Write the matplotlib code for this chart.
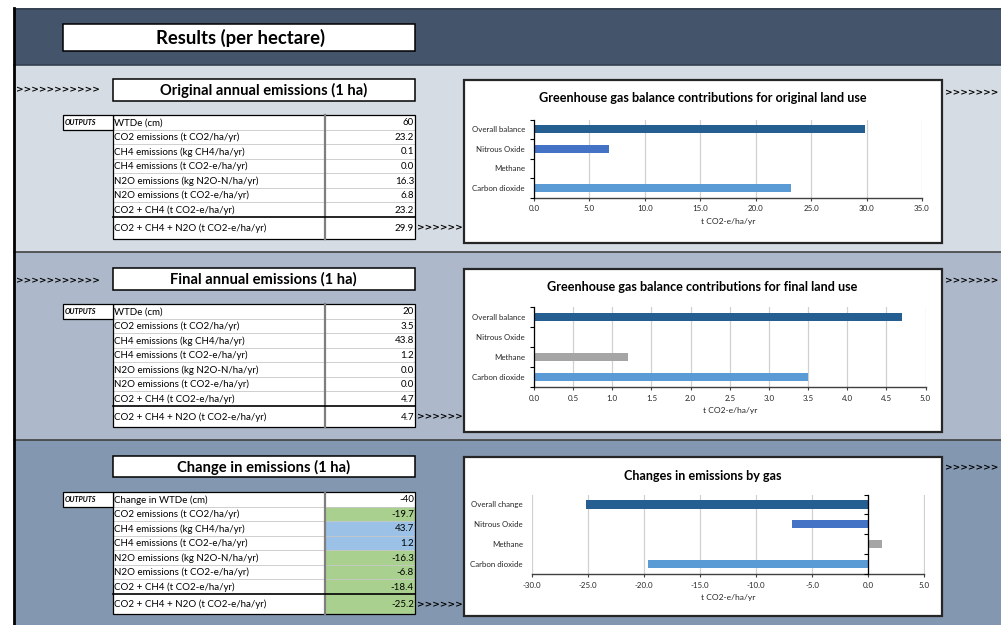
import numpy as np
import matplotlib.pyplot as plt
from matplotlib.patches import Rectangle

plt.rcParams['font.family'] = ['Lato', 'DejaVu Sans']

W, H = 1001, 625

# table rows
row_labels = ['WTDe (cm)', 'CO2 emissions (t CO2/ha/yr)', 'CH4 emissions (kg CH4/ha/yr)',
              'CH4 emissions (t CO2-e/ha/yr)', 'N2O emissions (kg N2O-N/ha/yr)',
              'N2O emissions (t CO2-e/ha/yr)', 'CO2 + CH4 (t CO2-e/ha/yr)',
              'CO2 + CH4 + N2O (t CO2-e/ha/yr)']
change_labels = ['Change in WTDe (cm)'] + row_labels[1:]
original_vals = [60, 23.2, 0.1, 0.0, 16.3, 6.8, 23.2, 29.9]
final_vals = [20, 3.5, 43.8, 1.2, 0.0, 0.0, 4.7, 4.7]
change_vals = [-40, -19.7, 43.7, 1.2, -16.3, -6.8, -18.4, -25.2]

# chart series (bottom to top)
gases = ['Carbon dioxide', 'Methane', 'Nitrous Oxide', 'Overall balance']
change_gases = ['Carbon dioxide', 'Methane', 'Nitrous Oxide', 'Overall change']
original_gas = [23.2, 0.0, 6.8, 29.9]
final_gas = [3.5, 1.2, 0.0, 4.7]
change_gas = [-19.7, 1.2, -6.8, -25.2]
gas_colors = ['#5B9BD5', '#A5A5A5', '#4472C4', '#255E91']

fig = plt.figure(figsize=(W / 100, H / 100), dpi=100)
bg = fig.add_axes([0, 0, 1, 1])
bg.set_xlim(0, W)
bg.set_ylim(H, 0)
bg.axis('off')


def box(x0, y0, x1, y1, fc='white', ec='black', lw=1.0, z=1):
    bg.add_patch(Rectangle((x0, y0), x1 - x0, y1 - y0, facecolor=fc,
                           edgecolor=ec, linewidth=lw, zorder=z))


def arrows(x, y, n):
    bg.text(x, y, '>' * n, ha='left', va='center', fontsize=6.5,
            fontweight='bold', family='DejaVu Sans', zorder=3)


# background bands
box(14, 8, W, 65, fc='#44546A', ec='none')
bg.plot([14, W], [8.5, 8.5], color='#333F50', lw=1.2, zorder=2)
bg.plot([14, W], [64.5, 64.5], color='#333F50', lw=1.2, zorder=2)
box(14, 65, W, 252, fc='#D6DCE4', ec='none')
box(14, 252, W, 440, fc='#ADB9CA', ec='none')
box(14, 440, W, H, fc='#8497B0', ec='none')
bg.plot([14, W], [252, 252], color='#404040', lw=1.2, zorder=2)
bg.plot([14, W], [440, 440], color='#404040', lw=1.2, zorder=2)
bg.plot([13.5, 13.5], [8, H], color='black', lw=2, zorder=5)

# heading boxes
box(63, 24, 415, 50.5, lw=1.1, z=2)
bg.text(241, 38, 'Results (per hectare)', ha='center', va='center',
        fontsize=13.3, fontweight='bold', zorder=3)

headers = ['Original annual emissions (1 ha)', 'Final annual emissions (1 ha)',
           'Change in emissions (1 ha)']
header_y = [(79, 100.5), (268, 290), (456, 477)]
for text, (y0, y1) in zip(headers, header_y):
    box(112.5, y0, 415, y1, lw=1.1, z=2)
    bg.text(263.5, (y0 + y1) / 2 + 0.5, text, ha='center', va='center',
            fontsize=10.6, fontweight='bold', zorder=3)

for y in [90, 280.5]:
    arrows(16, y, 11)
for y in [93, 281, 468]:
    arrows(945, y, 7)


def fmt(i, v):
    return f'{v:.0f}' if i == 0 else f'{v:.1f}'


def table(top, mid, bottom, labels, vals, shade=False):
    n = len(labels) - 1
    h = (mid - top) / n
    tops = [top + i * h for i in range(n)] + [mid]
    bots = tops[1:] + [bottom]
    for i, (y0, y1) in enumerate(zip(tops, bots)):
        fc = 'white'
        if shade and i > 0:
            fc = '#A9D08E' if vals[i] < 0 else '#9BC2E6'
        box(112.5, y0, 325, y1, ec='none', z=2)
        box(325, y0, 415, y1, fc=fc, ec='none', z=2)
        if 0 < i < n:
            bg.plot([112.5, 415], [y0, y0], color='#C8C8C8', lw=0.6, zorder=3)
        bg.text(114.5, (y0 + y1) / 2 + 0.5, labels[i], ha='left', va='center',
                fontsize=7, zorder=4)
        bg.text(414, (y0 + y1) / 2 + 0.5, fmt(i, vals[i]), ha='right',
                va='center', fontsize=7, zorder=4)
    box(112.5, top, 415, bottom, fc='none', ec='black', lw=0.9, z=4)
    bg.plot([325, 325], [top, bottom], color='#7F7F7F', lw=1.6, zorder=4)
    bg.plot([112.5, 415], [mid, mid], color='black', lw=1.2, zorder=4)
    box(63, top, 112.5, top + h, ec='black', lw=0.9, z=4)
    bg.text(65, top + h / 2 + 0.5, 'OUTPUTS', ha='left', va='center',
            fontsize=5.2, fontweight='bold', style='italic', zorder=5)
    arrows(416.5, (mid + bottom) / 2 + 0.5, 7)


table(115, 217, 238.5, row_labels, original_vals)
table(304, 406, 427, row_labels, final_vals)
table(492, 594, 614, change_labels, change_vals, shade=True)


def chart(box_y, title, title_y, plot_px, cats, vals, xlim, step):
    box(463.5, box_y[0], 941.5, box_y[1], ec='#262626', lw=1.6, z=6)
    bg.text(702.5, title_y, title, ha='center', va='center', fontsize=9.1,
            fontweight='bold', zorder=7)
    x0, x1, y0, y1 = plot_px
    ax = fig.add_axes([x0 / W, 1 - y1 / H, (x1 - x0) / W, (y1 - y0) / H])
    ax.patch.set_alpha(0)
    ypos = np.arange(len(cats))
    ax.barh(ypos, vals, height=0.42, color=gas_colors, zorder=3)
    ax.set_xlim(*xlim)
    ax.set_ylim(-0.5, len(cats) - 0.5)
    ax.set_xticks(np.arange(xlim[0], xlim[1] + step / 2, step))
    ax.xaxis.set_major_formatter(plt.FuncFormatter(lambda v, p: f'{v:.1f}'))
    ax.grid(axis='x', color='#D0D0D0', lw=0.9, zorder=0)
    ax.set_yticks(ypos)
    ax.set_yticklabels(cats)
    ax.tick_params(axis='y', length=0, pad=6.5, labelsize=5.7, colors='#262626')
    ax.tick_params(axis='x', length=2.5, width=0.8, color='#404040', pad=3,
                   labelsize=5.7, labelcolor='#262626')
    for s in ['top', 'right', 'left']:
        ax.spines[s].set_visible(False)
    ax.spines['bottom'].set_color('#404040')
    ax.spines['bottom'].set_linewidth(1.0)
    # category axis at zero with boundary tick marks
    ax.plot([0, 0], [-0.5, len(cats) - 0.5], color='black', lw=0.9, zorder=4,
            clip_on=False)
    ax.plot(np.zeros(len(cats) + 1), np.arange(len(cats) + 1) - 0.5,
            marker=0, markersize=3, markeredgewidth=0.8, color='black',
            linestyle='none', zorder=4, clip_on=False)
    ax.set_xlabel('t CO2-e/ha/yr', fontsize=6.1, labelpad=4, color='#262626')
    return ax


chart((80, 242.5), 'Greenhouse gas balance contributions for original land use', 98.5,
      (534, 922, 119.5, 197.5), gases, original_gas, (0, 35), 5)
chart((268.5, 432), 'Greenhouse gas balance contributions for final land use', 287,
      (534, 925.5, 307, 387), gases, final_gas, (0, 5), 0.5)
chart((457, 616), 'Changes in emissions by gas', 475.5,
      (532, 924.5, 494.5, 574), change_gases, change_gas, (-30, 5), 5)

fig.savefig('out.png', dpi=100)
